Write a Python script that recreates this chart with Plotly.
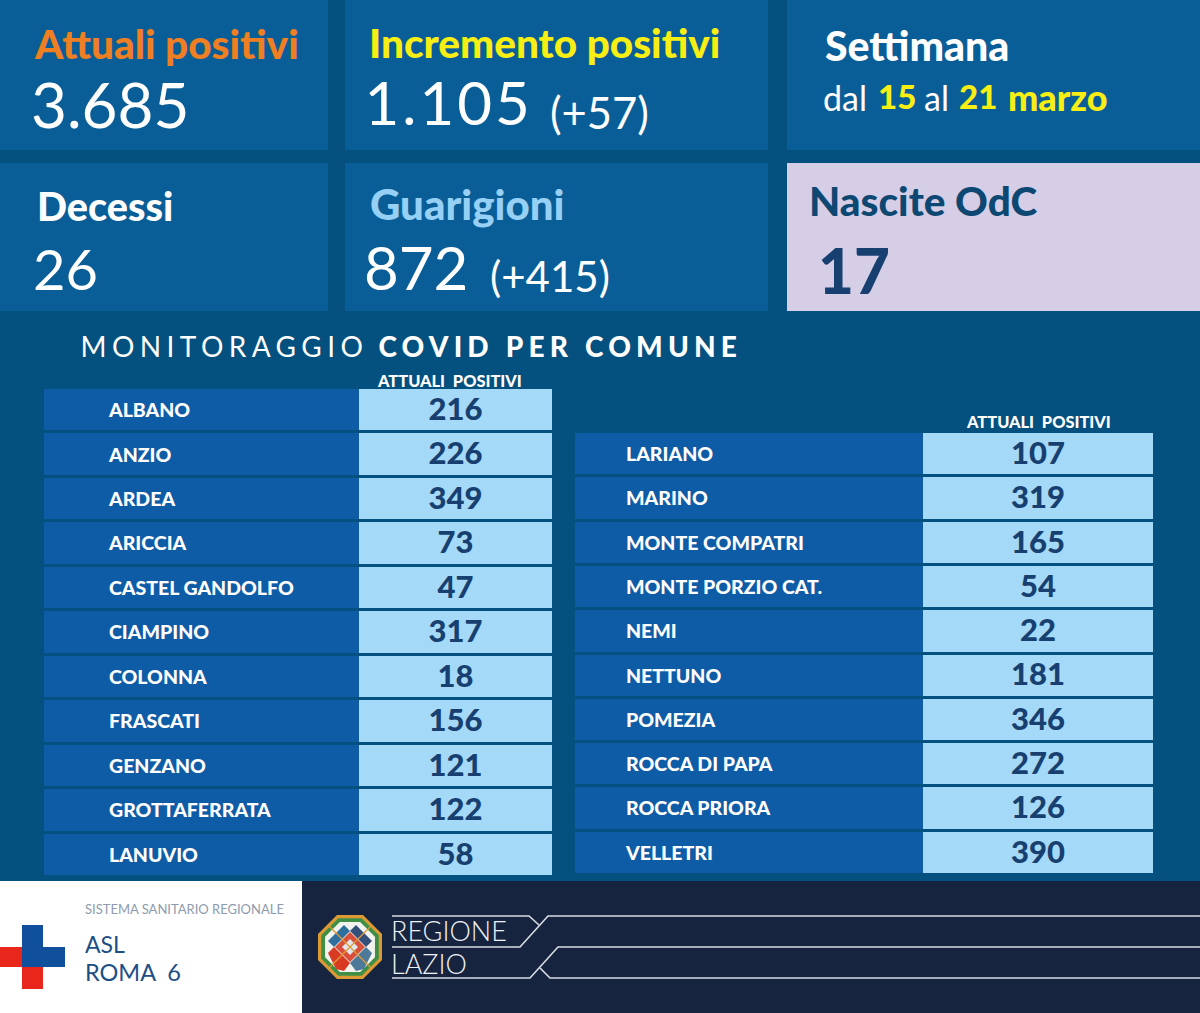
import plotly.graph_objects as go

# ==========================================
# DATA
# ==========================================

comuni_sx = ["ALBANO", "ANZIO", "ARDEA", "ARICCIA", "CASTEL GANDOLFO", "CIAMPINO",
             "COLONNA", "FRASCATI", "GENZANO", "GROTTAFERRATA", "LANUVIO"]
positivi_sx = [216, 226, 349, 73, 47, 317, 18, 156, 121, 122, 58]

comuni_dx = ["LARIANO", "MARINO", "MONTE COMPATRI", "MONTE PORZIO CAT.", "NEMI", "NETTUNO",
             "POMEZIA", "ROCCA DI PAPA", "ROCCA PRIORA", "VELLETRI"]
positivi_dx = [107, 319, 165, 54, 22, 181, 346, 272, 126, 390]

attuali_positivi = "3.685"
incremento_positivi = "1.105"
incremento_delta = "(+57)"
decessi = "26"
guarigioni = "872"
guarigioni_delta = "(+415)"
nascite = "17"

W, H = 1200, 1013
FONT = "Lato"

BG = "#04507e"
PANEL = "#0a5e97"
LILLA = "#d5cee6"
CELL_NAME = "#0f5ca6"
CELL_VALUE = "#a4d9f8"
NAVY = "#173f70"
FOOTER = "#17243f"
YELLOW = "#f7ee14"
ORANGE = "#ee7f22"
CELESTE = "#97d0f5"
RED = "#e8261c"
BLUE = "#0f4f9c"


def px(x):
    return x / W


def py(y):
    return 1 - y / H


shapes = []
annotations = []


def rect(x0, y0, x1, y1, color):
    shapes.append(dict(type="rect", xref="paper", yref="paper", layer="below",
                       x0=px(x0), x1=px(x1), y0=py(y0), y1=py(y1),
                       fillcolor=color, line_width=0))


def poly(points, color, line=None, width=0):
    path = "M " + " L ".join(f"{px(a):.5f},{py(b):.5f}" for a, b in points)
    if line is None:
        path += " Z"
    shapes.append(dict(type="path", xref="paper", yref="paper", layer="below", path=path,
                       fillcolor=color if line is None else "rgba(0,0,0,0)",
                       line=dict(color=line or color, width=width)))


def label(text, x, y, size, color, weight=400, anchor="left"):
    annotations.append(dict(xref="paper", yref="paper", x=px(x), y=py(y), text=text,
                            showarrow=False, xanchor=anchor, yanchor="middle", borderpad=0, borderwidth=0,
                            font=dict(family=FONT, size=size, color=color, weight=weight)))


# ==========================================
# TOP PANELS
# ==========================================

rect(0, 0, 328, 150, PANEL)
rect(345, 0, 768, 150, PANEL)
rect(787, 0, 1200, 150, PANEL)
rect(0, 163, 328, 311, PANEL)
rect(345, 163, 768, 311, PANEL)
rect(787, 163, 1200, 311, LILLA)

label("Attuali positivi", 34, 43, 40.5, ORANGE, 900)
label(attuali_positivi, 31, 104, 62, "white")
label("Incremento positivi", 369, 42, 40.5, YELLOW, 900)
label(incremento_positivi, 372, 102, 60, "white")
label(incremento_delta, 550, 112, 43.5, "white")
label("Settimana", 825, 46, 41, "white", 900)
label("dal", 823, 97, 34, "white")
label("15", 878, 96, 33, YELLOW, 900)
label("al", 924, 97, 34, "white")
label("21", 959, 96, 33, YELLOW, 900)
label("marzo", 1008, 97, 36, YELLOW, 900)

label("Decessi", 37, 205, 39.5, "white", 900)
label(decessi, 33, 268, 56, "white")
label("Guarigioni", 370, 204, 42, CELESTE, 900)
label(guarigioni, 364, 267, 60, "white")
label(guarigioni_delta, 490, 276, 42, "white")
label("Nascite OdC", 809, 201, 40.5, "#0d4873", 900)
label(nascite, 818, 270, 62, NAVY, 900)

# ==========================================
# HEADINGS
# ==========================================

label("MONITORAGGIO", 224, 346, 28, "white", anchor="center")
label("COVID PER COMUNE", 560, 346, 28, "white", 900, anchor="center")
label("ATTUALI  POSITIVI", 449, 380, 16.4, "white", 900, anchor="center")
label("ATTUALI  POSITIVI", 1038, 422, 16.4, "white", 900, anchor="center")

# ==========================================
# FOOTER
# ==========================================

rect(0, 881, 302, 1013, "white")
rect(302, 881, 1200, 1013, FOOTER)

rect(22, 925, 43, 967, BLUE)
rect(22, 947, 65, 967, BLUE)
rect(0, 947, 22, 967, RED)
rect(22, 967, 43, 989, RED)

label("SISTEMA SANITARIO REGIONALE", 85, 909, 13, "#8e9bae")
label("ASL", 85, 944, 23, "#1d4f86")
label("ROMA  6", 85, 972, 23.5, "#1d4f86")

# emblem
cx, cy = 350, 947
octagon = [(-13, -32), (13, -32), (32, -13), (32, 13), (13, 32), (-13, 32), (-32, 13), (-32, -13)]


def emblem(points, color):
    poly([(cx + a, cy + b) for a, b in points], color)


emblem(octagon, "#dd9a34")
emblem([(a * 0.9, b * 0.9) for a, b in octagon], "#3f8f45")
emblem([(a * 0.78, b * 0.78) for a, b in octagon], "#f2f2ee")
emblem([(-22, -6), (-6, -22), (0, -16), (-16, 0)], "#2f6f9e")
emblem([(6, -22), (22, -6), (16, 0), (0, -16)], "#34507a")
emblem([(-22, 6), (-16, 0), (0, 16), (-6, 24), (-14, 22)], "#d93a22")
emblem([(16, 0), (22, 6), (14, 22), (6, 24), (0, 16)], "#4d7a98")
emblem([(0, -15), (15, 0), (0, 15), (-15, 0)], "#d8503a")
emblem([(0, -8), (8, 0), (0, 8), (-8, 0)], "#dfe6ee")
poly([(cx - 22, cy - 22), (cx + 22, cy + 22)], None, "#dd9a34", 1.3)
poly([(cx + 22, cy - 22), (cx - 22, cy + 22)], None, "#dd9a34", 1.3)

line_color = "#d8dde6"
poly([(392, 916), (529, 916), (539, 925)], None, line_color, 1.6)
poly([(392, 947), (520, 947), (548, 916), (1200, 916)], None, line_color, 1.6)
poly([(392, 978), (530, 978), (558, 947), (1200, 947)], None, line_color, 1.6)
poly([(540, 968), (550, 978), (1200, 978)], None, line_color, 1.6)

label("REGIONE", 391, 930, 27, "#eef1f5", 300)
label("LAZIO", 391, 963, 27, "#eef1f5", 300)

# ==========================================
# FIGURE
# ==========================================

fig = go.Figure()

TEXT_DROP = 2  # text rides a copy of the y axis, a little lower than the cells


def add_table(comuni, positivi, axis, left, right, split, top, bottom, indent):
    xname = "x" if axis == 1 else f"x{axis}"
    yname = "y" if axis == 1 else f"y{axis}"
    ytext = f"y{axis + 2}"
    col_edges = [left, split, right]

    # one coloured tile per cell
    fig.add_trace(go.Heatmap(
        x=col_edges, y=comuni, z=[[0, 1] for _ in comuni],
        colorscale=[[0, CELL_NAME], [1, CELL_VALUE]], showscale=False, ygap=3,
        hoverinfo="skip", xaxis=xname, yaxis=yname))

    fig.add_trace(go.Scatter(
        x=[indent] * len(comuni), y=comuni, text=comuni, mode="text", textposition="middle right",
        textfont=dict(family=FONT, size=19.5, color="white", weight=900),
        hoverinfo="skip", cliponaxis=False, xaxis=xname, yaxis=ytext))

    fig.add_trace(go.Scatter(
        x=[(split + right) / 2] * len(comuni), y=comuni, text=[str(v) for v in positivi],
        mode="text", textposition="middle center",
        textfont=dict(family=FONT, size=31, color=NAVY, weight=900),
        hoverinfo="skip", cliponaxis=False, xaxis=xname, yaxis=ytext))

    suffix = "" if axis == 1 else str(axis)
    yrange = [len(comuni) - 0.5, -0.5]
    fig.update_layout({
        f"xaxis{suffix}": dict(domain=[px(left), px(right)], range=[left, right], visible=False,
                               anchor=yname),
        f"yaxis{suffix}": dict(domain=[py(bottom), py(top)], type="category", categoryarray=comuni,
                               categoryorder="array", range=yrange, visible=False, anchor=xname),
        f"yaxis{axis + 2}": dict(domain=[py(bottom + TEXT_DROP), py(top + TEXT_DROP)], type="category",
                                 categoryarray=comuni, categoryorder="array", range=yrange,
                                 visible=False, anchor=xname),
    })


add_table(comuni_sx, positivi_sx, 1, 44, 552, 359, 388, 877, 109)
add_table(comuni_dx, positivi_dx, 2, 575, 1153, 923, 432, 875, 626)

fig.update_layout(
    width=W,
    height=H,
    margin=dict(l=0, r=0, t=0, b=0),
    paper_bgcolor=BG,
    plot_bgcolor="rgba(0,0,0,0)",
    showlegend=False,
    shapes=shapes,
    annotations=annotations,
    font=dict(family=FONT),
)

# page without body margin, letter spacing of the heading and the big number
post = """
document.body.style.margin = '0';
var spacing = {'MONITORAGGIO': '5.4px', 'COVID PER COMUNE': '5.2px', '1.105': '3px'};
document.querySelectorAll('.annotation-text').forEach(function (t) {
  var s = spacing[t.textContent];
  if (s) { t.style.letterSpacing = s; }
});
"""

fig.write_html("out.html", post_script=post, config=dict(displayModeBar=False))
